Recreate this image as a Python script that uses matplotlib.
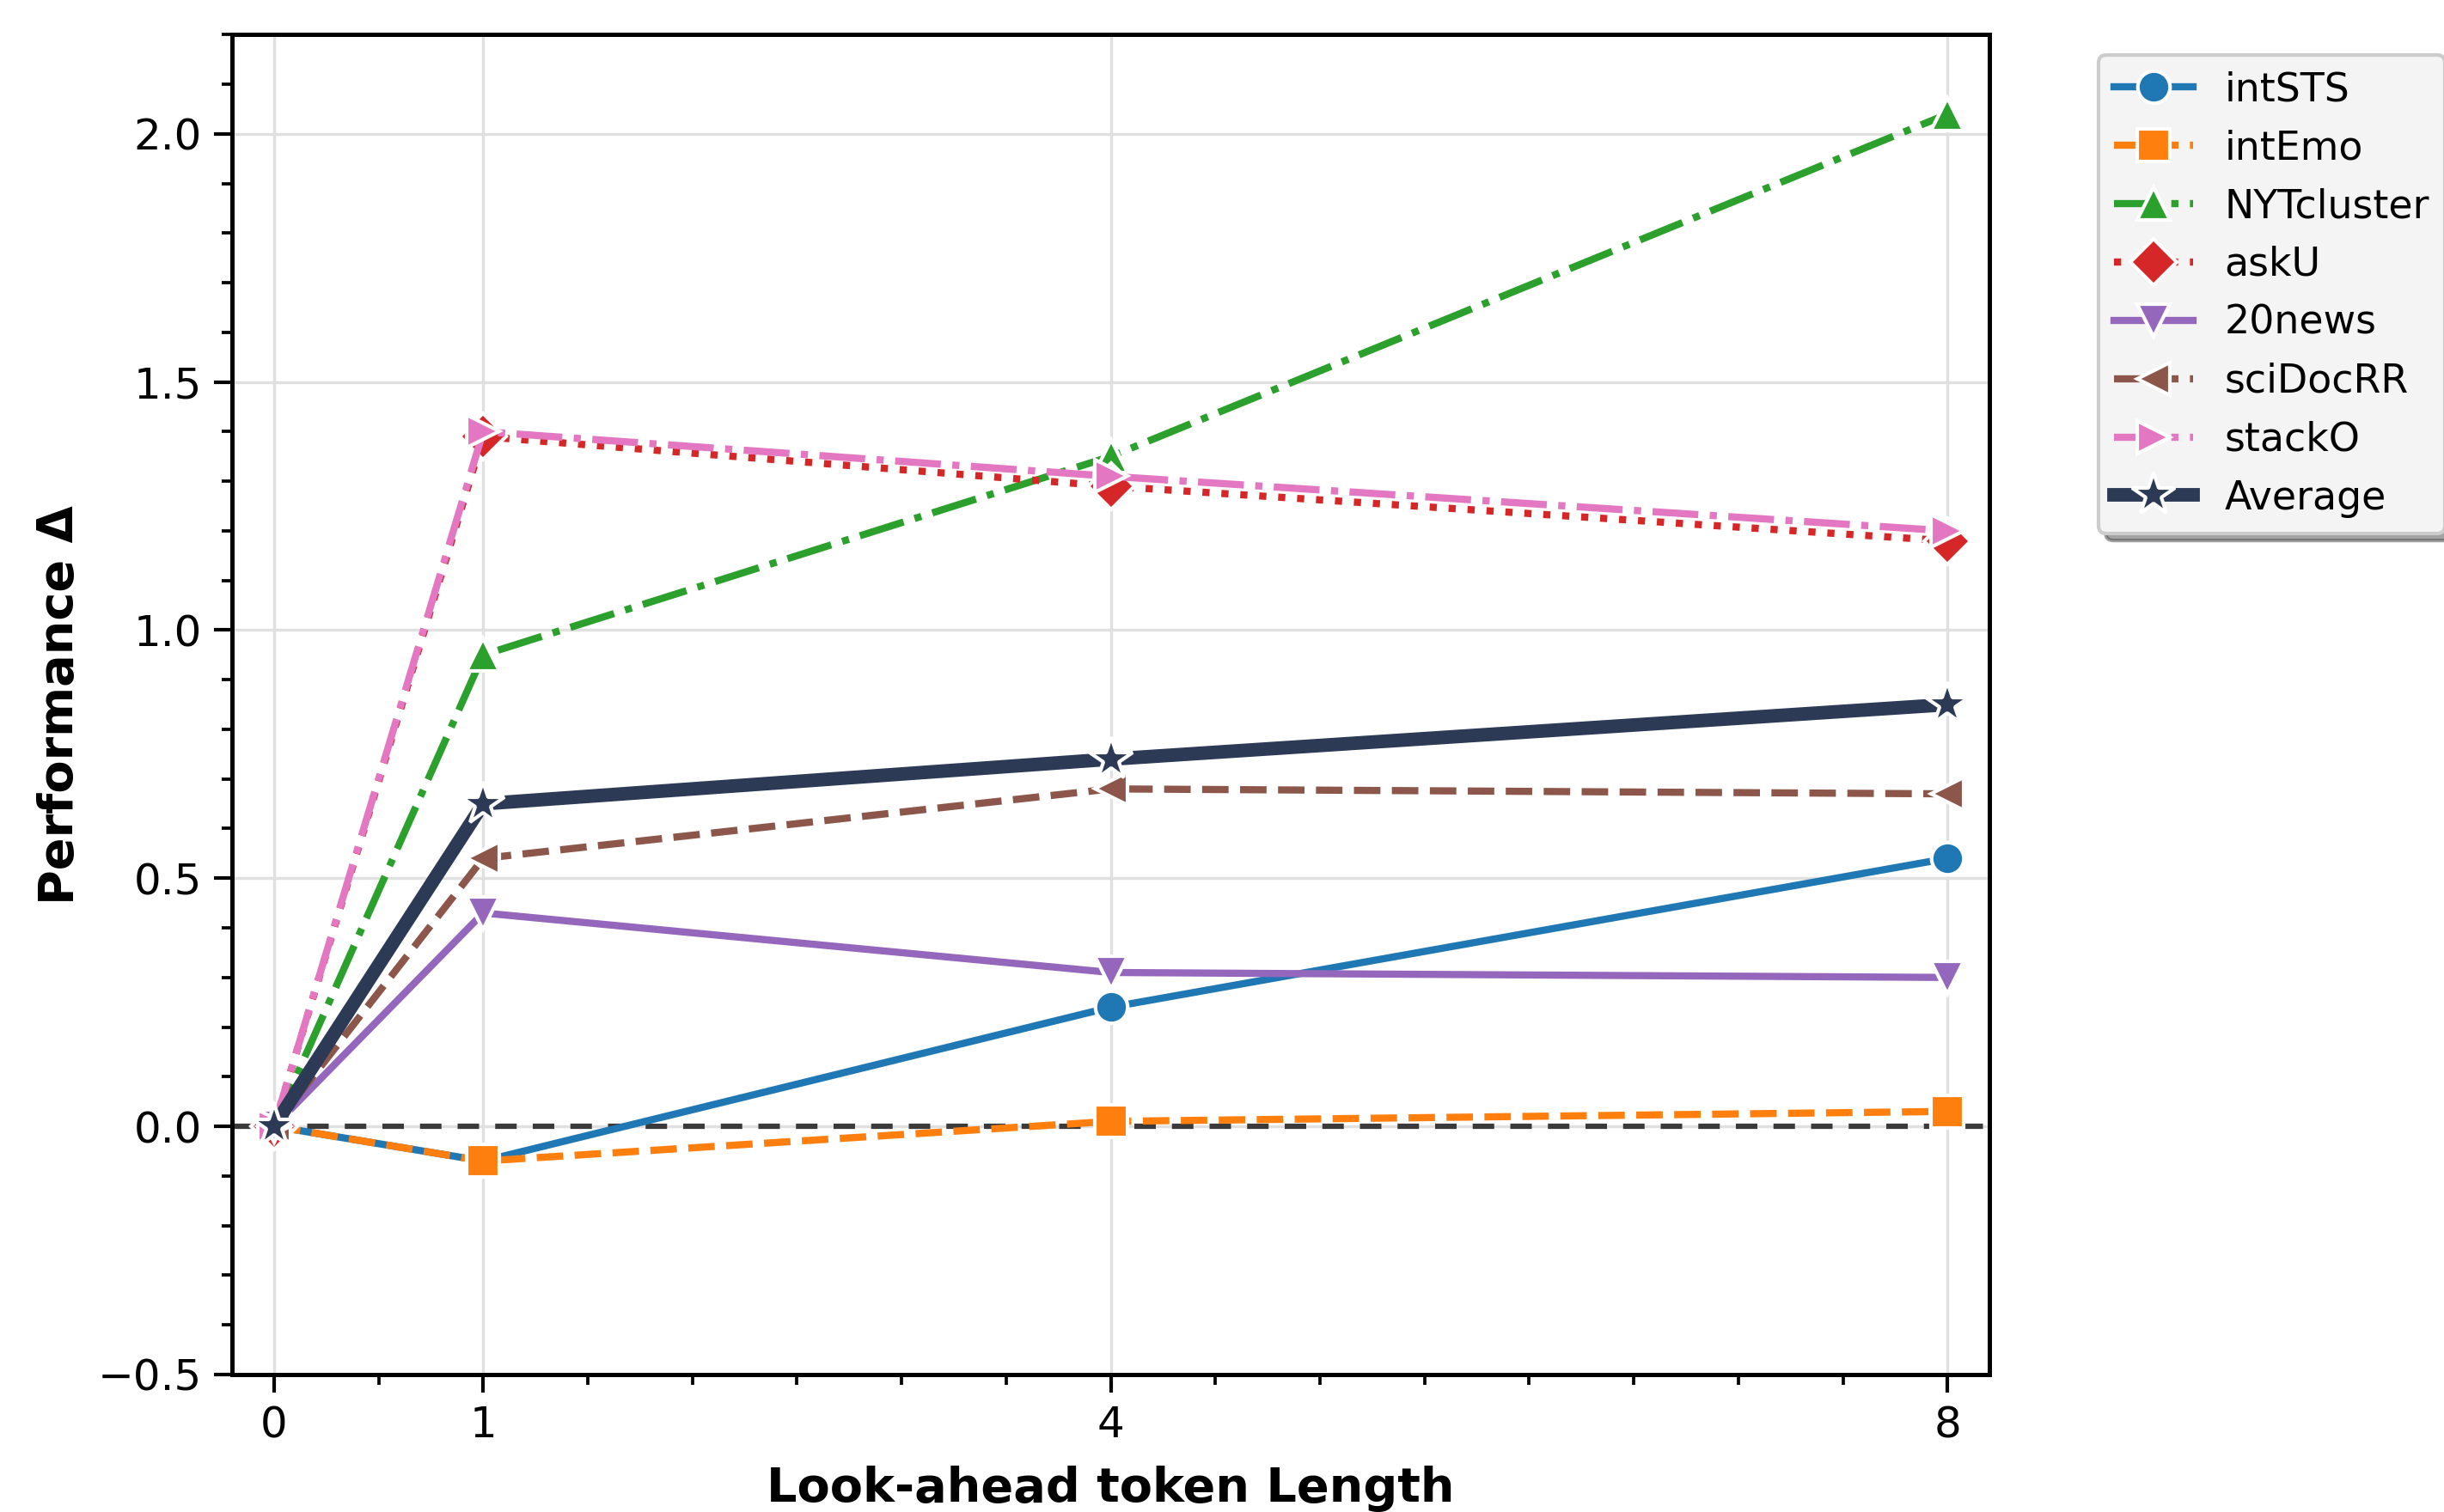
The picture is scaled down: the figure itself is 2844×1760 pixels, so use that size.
import matplotlib
matplotlib.use('Agg')
import matplotlib.pyplot as plt
from matplotlib.ticker import MultipleLocator, FixedLocator

# look-ahead token lengths
x_vals = [0, 1, 4, 8]

int_sts = [0.0, -0.07, 0.24, 0.54]
int_emo = [0.0, -0.07, 0.01, 0.03]
nyt_cluster = [0.0, 0.95, 1.35, 2.04]
ask_u = [0.0, 1.39, 1.29, 1.18]
news20 = [0.0, 0.43, 0.31, 0.30]
sci_doc_rr = [0.0, 0.54, 0.68, 0.67]
stack_o = [0.0, 1.40, 1.31, 1.20]
average = [0.0, 0.65, 0.74, 0.85]

series = [
    ('intSTS', int_sts, '#1f77b4', '-', 'o', 2.0, 9),
    ('intEmo', int_emo, '#ff7f0e', '--', 's', 2.0, 9),
    ('NYTcluster', nyt_cluster, '#2ca02c', '-.', '^', 2.0, 9),
    ('askU', ask_u, '#d62728', ':', 'D', 2.0, 9),
    ('20news', news20, '#9467bd', '-', 'v', 2.0, 9),
    ('sciDocRR', sci_doc_rr, '#8c564b', '--', '<', 2.0, 9),
    ('stackO', stack_o, '#e377c2', '-.', '>', 2.0, 9),
    ('Average', average, '#2d3a55', '-', '*', 3.8, 12.5),
]

fig = plt.figure(figsize=(9.48, 5.867), dpi=300)
ax = fig.add_axes([0.095, 0.091, 0.719, 0.886])

ax.grid(True, which='major', color='#e0e0e0', linewidth=0.8, zorder=0)
ax.axhline(0, color='#3a3a3a', linestyle=(0, (4, 3)), linewidth=1.5, zorder=2)

for name, vals, color, ls, mk, lw, ms in series:
    ax.plot(x_vals, vals, color=color, linestyle=ls, marker=mk, linewidth=lw,
            markersize=ms, markeredgecolor='white', markeredgewidth=1.0,
            label=name, zorder=3)

ax.set_xlim(-0.2, 8.2)
ax.set_ylim(-0.5, 2.2)
ax.xaxis.set_major_locator(FixedLocator(x_vals))
ax.xaxis.set_minor_locator(MultipleLocator(0.5))
ax.yaxis.set_major_locator(MultipleLocator(0.5))
ax.yaxis.set_minor_locator(MultipleLocator(0.1))

ax.tick_params(which='major', length=5, width=1.0, labelsize=12)
ax.tick_params(which='minor', length=2.8, width=0.9)
for sp in ax.spines.values():
    sp.set_linewidth(1.2)

ax.set_xlabel('Look-ahead token Length', fontsize=13.4, fontweight='bold', labelpad=5.5)
ax.set_ylabel('Performance Δ', fontsize=13.4, fontweight='bold')

leg = ax.legend(loc='upper left', bbox_to_anchor=(1.062, 0.985), fontsize=11,
                frameon=True, fancybox=True, shadow=True, borderaxespad=0.0,
                labelspacing=0.5)
leg.get_frame().set_facecolor('#f4f4f4')
leg.get_frame().set_edgecolor('#cccccc')

fig.savefig('out.png', dpi=300)
